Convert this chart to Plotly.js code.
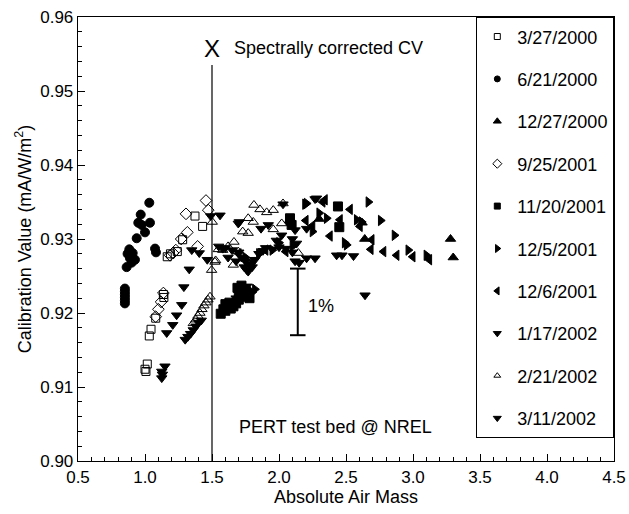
<!DOCTYPE html>
<html>
<head>
<meta charset="utf-8">
<script src="https://cdn.plot.ly/plotly-3.0.1.min.js"></script>
<style>html,body{margin:0;padding:0;background:#fff;}#chart{width:629px;height:514px;}</style>
</head>
<body>
<div id="chart"></div>
<script>
// ---- data ----
const seriesNames = ["3/27/2000","6/21/2000","12/27/2000","9/25/2001","11/20/2001","12/5/2001","12/6/2001","1/17/2002","2/21/2002","3/11/2002"];

const x_20000327 = [1.007,1.017,1.032,1.045,1.080,1.141,1.166,1.190,1.241,1.281,1.373,1.430,1.137,1.000];
const y_20000327 = [0.9121,0.9131,0.9169,0.9178,0.9193,0.9221,0.9276,0.9280,0.9283,0.9299,0.9331,0.9317,0.9225,0.9124];

const x_20000621 = [0.850,0.850,0.850,0.850,0.850,0.850,0.863,0.870,0.883,0.888,0.900,0.908,0.925,0.938,0.950,0.968,0.975,1.000,1.032,1.037,1.075,1.082];
const y_20000621 = [0.9213,0.9217,0.9221,0.9225,0.9229,0.9233,0.9262,0.9280,0.9286,0.9274,0.9268,0.9281,0.9272,0.9301,0.9322,0.9333,0.9319,0.9309,0.9349,0.9322,0.9287,0.9282];

const x_20001227 = [2.300,2.620,2.640,3.280,3.300];
const y_20001227 = [0.9327,0.9322,0.9300,0.9300,0.9275];

const x_20010925 = [1.455,1.306,1.472,1.316,1.393,1.187,1.210,1.230,1.137,1.120,1.100,1.080,1.270];
const y_20010925 = [0.9352,0.9334,0.9339,0.9309,0.9290,0.9278,0.9281,0.9285,0.9227,0.9215,0.9205,0.9195,0.9300];

const x_20011120 = [2.082,2.094,2.440,2.450,1.565,1.585,1.600,1.620,1.640,1.660,1.600,1.630,1.680,1.700,1.720,1.740,1.700,1.750,1.760,1.780,1.690,1.720];
const y_20011120 = [0.9328,0.9319,0.9344,0.9316,0.9199,0.9205,0.9203,0.9207,0.9206,0.9209,0.9212,0.9214,0.9213,0.9218,0.9222,0.9226,0.9228,0.9232,0.9224,0.9220,0.9234,0.9237];

const x_20011205 = [2.194,2.206,2.667,2.617,2.356,2.505,2.580,2.759,2.862,2.490,2.965,3.100,2.300,2.250,2.000,1.850,1.950,1.750,1.800,1.820,2.100];
const y_20011205 = [0.9347,0.9348,0.9350,0.9323,0.9328,0.9292,0.9326,0.9325,0.9305,0.9295,0.9285,0.9278,0.9335,0.9310,0.9295,0.9280,0.9285,0.9275,0.9228,0.9232,0.9290];

const x_20011206 = [2.343,2.326,2.530,2.455,2.380,2.692,2.685,2.780,2.878,2.998,3.122,2.604,2.250,2.200,1.900,1.700,1.800,1.750,2.050];
const y_20011206 = [0.9353,0.9350,0.9340,0.9326,0.9304,0.9299,0.9286,0.9283,0.9278,0.9276,0.9272,0.9317,0.9318,0.9325,0.9285,0.9280,0.9268,0.9222,0.9283];

const x_20020117 = [1.125,1.125,1.130,1.149,1.162,1.207,1.236,1.274,1.290,1.330,1.349,1.405,1.465,1.490,1.560,1.300,1.320,1.340,1.360,1.380,1.400,1.420];
const y_20020117 = [0.9112,0.9121,0.9117,0.9128,0.9173,0.9184,0.9197,0.9211,0.9235,0.9259,0.9285,0.9281,0.9272,0.9331,0.9332,0.9164,0.9168,0.9172,0.9177,0.9182,0.9187,0.9190];

const x_20020221 = [1.502,1.497,1.522,1.547,1.527,1.485,1.470,1.455,1.440,1.425,1.410,1.395,1.380,1.360,1.813,1.858,1.908,1.957,2.020,1.957,1.770,1.808,1.729,1.770,1.664,1.696,1.659,2.144,2.030,1.580,1.620];
const y_20020221 = [0.9323,0.9258,0.9269,0.9286,0.9271,0.9222,0.9218,0.9214,0.9210,0.9205,0.9200,0.9196,0.9191,0.9186,0.9346,0.9340,0.9336,0.9339,0.9321,0.9313,0.9328,0.9323,0.9310,0.9308,0.9296,0.9283,0.9265,0.9281,0.9348,0.9285,0.9290];

const x_20020311 = [1.696,1.704,1.866,1.920,2.030,2.269,2.280,2.206,2.131,2.206,2.269,2.430,2.470,2.556,2.642,1.600,1.650,1.700,1.720,1.750,1.780,1.800,1.760,1.820,1.850,1.880,1.900,1.950,2.000,2.050,2.100,2.120,2.150,1.620,1.680,2.020,2.080,2.100,2.120,1.980,1.720,1.740,1.760,1.700,1.680,1.550,1.580,1.740,1.770];
const y_20020311 = [0.9321,0.9323,0.9314,0.9319,0.9347,0.9354,0.9355,0.9314,0.9294,0.9274,0.9274,0.9278,0.9278,0.9277,0.9224,0.9288,0.9285,0.9282,0.9275,0.9270,0.9265,0.9262,0.9258,0.9272,0.9280,0.9284,0.9288,0.9286,0.9289,0.9287,0.9282,0.9270,0.9268,0.9275,0.9270,0.9305,0.9320,0.9300,0.9312,0.9298,0.9225,0.9232,0.9236,0.9215,0.9220,0.9290,0.9287,0.9262,0.9256];

const xTickVals = [0.5,1.0,1.5,2.0,2.5,3.0,3.5,4.0,4.5];
const yTickVals = [0.90,0.91,0.92,0.93,0.94,0.95,0.96];

// ---- styling ----
const FONT = "Arial, 'Liberation Sans', sans-serif";
const seriesX = [x_20000327,x_20000621,x_20001227,x_20010925,x_20011120,x_20011205,x_20011206,x_20020117,x_20020221,x_20020311];
const seriesY = [y_20000327,y_20000621,y_20001227,y_20010925,y_20011120,y_20011205,y_20011206,y_20020117,y_20020221,y_20020311];
const symbols = ["square-open","circle","triangle-up","diamond-open","square","triangle-right","triangle-left","triangle-down","triangle-up-open","triangle-down"];
const sizes =   [8,9,9,9,9,9,9,9,9,9];
const legendSizes = [6,6,7,7,6,7,7,7,6,7];

const traces = [];
seriesNames.forEach((n,i)=>{
  traces.push({
    type:'scatter', mode:'markers', x: seriesX[i], y: seriesY[i], name: n, showlegend:false,
    marker:{symbol:symbols[i], size:sizes[i], color:'#000', line:{color:'#000', width:1}}
  });
});
seriesNames.forEach((n,i)=>{
  traces.push({
    type:'scatter', mode:'markers', x:[null], y:[null], name:n, legendgroup:'g'+i, showlegend:true,
    marker:{symbol:symbols[i], size:legendSizes[i], color:'#000', line:{color:'#000', width:1}}
  });
});

const refLineX = 1.5, refLineTop = 0.9535;
const barX = 2.14, barLo = 0.917, barHi = 0.926, capHalf = 0.058;

const layout = {
  width:629, height:514,
  margin:{l:78, r:15, t:17, b:53},
  paper_bgcolor:'#fff', plot_bgcolor:'#fff',
  font:{family:FONT, size:17, color:'#000'},
  showlegend:true,
  legend:{x:1, xanchor:'right', y:1, yanchor:'top', bgcolor:'#fff', bordercolor:'#000', borderwidth:1.3,
          font:{family:FONT, size:18, color:'#000'}, tracegroupgap:16},
  xaxis:{range:[0.5,4.5], tickvals:xTickVals, ticktext:xTickVals.map(v=>v.toFixed(1)),
         ticks:'inside', ticklen:7, tickwidth:1, tickcolor:'#000',
         minor:{dtick:0.1, ticks:'inside', ticklen:4, tickcolor:'#000', tickwidth:1},
         showline:true, linecolor:'#000', linewidth:1.3, mirror:true, showgrid:false, zeroline:false,
         tickfont:{size:17}, title:{text:'Absolute Air Mass', font:{size:18}, standoff:4}},
  yaxis:{range:[0.90,0.96], tickvals:yTickVals, ticktext:yTickVals.map(v=>v.toFixed(2)),
         ticks:'inside', ticklen:7, tickwidth:1, tickcolor:'#000',
         minor:{dtick:0.002, ticks:'inside', ticklen:4, tickcolor:'#000', tickwidth:1},
         showline:true, linecolor:'#000', linewidth:1.3, mirror:true, showgrid:false, zeroline:false,
         tickfont:{size:17}, title:{text:'Calibration Value (mA/W/m<sup>2</sup>)', font:{size:18}, standoff:4}},
  shapes:[
    {type:'line', xref:'x', yref:'y', x0:refLineX, x1:refLineX, y0:0.90, y1:refLineTop, line:{color:'#000', width:1.2}},
    {type:'line', xref:'x', yref:'y', x0:barX, x1:barX, y0:barLo, y1:barHi, line:{color:'#000', width:2}},
    {type:'line', xref:'x', yref:'y', x0:barX-capHalf, x1:barX+capHalf, y0:barLo, y1:barLo, line:{color:'#000', width:2}},
    {type:'line', xref:'x', yref:'y', x0:barX-capHalf, x1:barX+capHalf, y0:barHi, y1:barHi, line:{color:'#000', width:2}}
  ],
  annotations:[
    {x:1.5, y:0.9558, xref:'x', yref:'y', text:'X', showarrow:false, font:{size:24}},
    {x:1.649, y:0.9558, xref:'x', yref:'y', text:'Spectrally corrected CV', xanchor:'left', showarrow:false, font:{size:18}},
    {x:2.31, y:0.9209, xref:'x', yref:'y', text:'1%', showarrow:false, font:{size:18}},
    {x:2.42, y:0.9046, xref:'x', yref:'y', text:'PERT test bed @ NREL', showarrow:false, font:{size:18}}
  ]
};

Plotly.newPlot('chart', traces, layout, {displayModeBar:false, staticPlot:true});
</script>
</body>
</html>
